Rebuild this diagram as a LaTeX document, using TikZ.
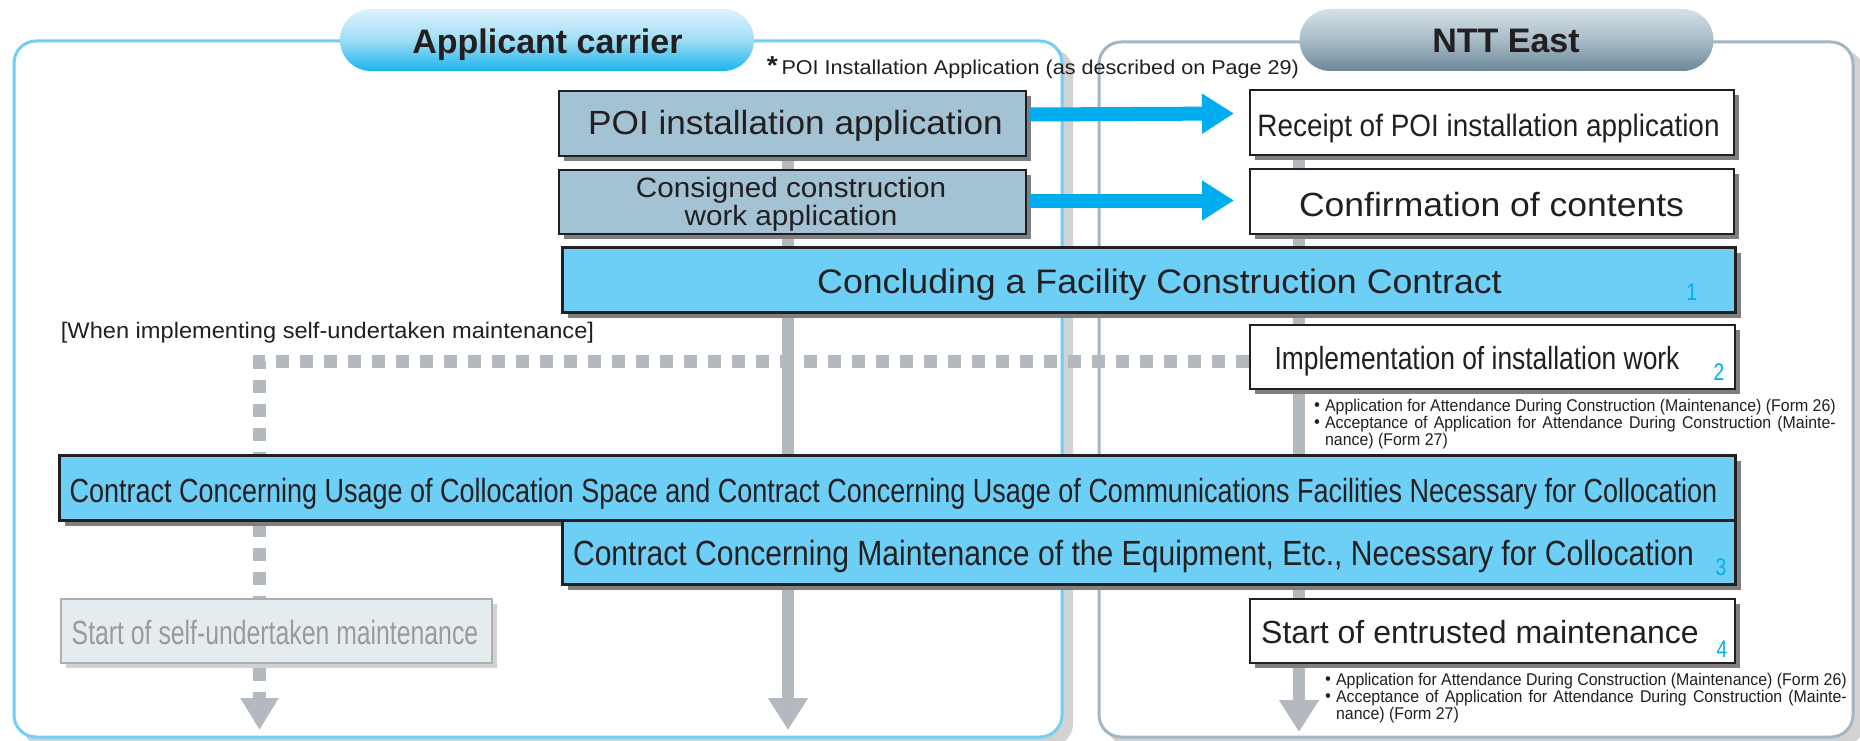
\documentclass[tikz,border=0pt]{standalone}
\usepackage{fontspec}
\setmainfont{Liberation Sans}
\newfontfamily\cjkfont{Noto Sans CJK JP}
\usepackage{graphicx}
\usetikzlibrary{arrows.meta,shadows}

\definecolor{panelL}{HTML}{6FCFF5}
\definecolor{panelR}{HTML}{A2B6C3}
\definecolor{poiFill}{HTML}{A3C2D3}
\definecolor{blueFill}{HTML}{6DCFF6}
\definecolor{arrowBlue}{HTML}{00AEEF}
\definecolor{greyLine}{HTML}{B4B9BF}
\definecolor{selfFill}{HTML}{E5ECEF}
\definecolor{selfText}{HTML}{9A9A9A}
\definecolor{darkLine}{HTML}{231F20}
\definecolor{shadowGrey}{HTML}{7F7F7F}
\definecolor{pillLtop}{HTML}{DDF3FC}
\definecolor{pillLmid}{HTML}{9FDDF5}
\definecolor{pillLbot}{HTML}{1AB4EB}
\definecolor{pillRtop}{HTML}{D6E0E6}
\definecolor{pillRmid}{HTML}{A8BCC8}
\definecolor{pillRbot}{HTML}{6C8799}

\newcommand\myfs[1]{\fontsize{#1}{#1}\selectfont}
\newcommand\hsc[2]{\scalebox{#1}[1]{#2}}
\newlength\bulw
\newcommand\bulletblock{%
  \fontsize{17}{16.5}\selectfont
  \settowidth\bulw{Application for Attendance During Construction (Maintenance) (Form 26)}%
  \begin{tabular}[t]{@{}l@{}l@{}}
  {\cjkfont\bfseries ・}&Application for Attendance During Construction (Maintenance) (Form 26)\\
  {\cjkfont\bfseries ・}&\makebox[\bulw][s]{Acceptance of Application for Attendance During Construction (Mainte-}\\
  &nance) (Form 27)
  \end{tabular}}

\pgfdeclarelayer{panel}
\pgfdeclarelayer{lines}
\pgfsetlayers{panel,lines,main}

\tikzset{
  box/.style={draw=darkLine, line width=2pt, inner sep=0pt, anchor=north west,
    drop shadow={shadow xshift=5pt, shadow yshift=-5pt, fill=shadowGrey, opacity=1}},
  poibox/.style={box, fill=poiFill},
  whitebox/.style={box, fill=white},
  contractbox/.style={box, fill=blueFill, line width=3pt},
  selfbox/.style={box, fill=selfFill, draw=selfText!80, line width=1.5pt,
    drop shadow={shadow xshift=5pt, shadow yshift=-5pt, fill=gray!35, opacity=1}},
  txt/.style={inner sep=0pt, anchor=base, text=darkLine},
  num/.style={inner sep=0pt, anchor=base, text=arrowBlue, font=\myfs{24}},
  pill/.style={minimum width=414pt, minimum height=62pt, rounded corners=31pt,
    inner sep=0pt, text=darkLine, font={\myfs{34}\bfseries}},
  flowline/.style={draw=greyLine, line width=12pt, -{Triangle[length=32pt,width=38pt]}},
  dashline/.style={draw=greyLine, line width=13pt, dash pattern=on 13pt off 11pt,
    -{Triangle[length=32pt,width=36pt]}},
  bluearrow/.style={draw=arrowBlue, line width=14pt, -{Triangle[length=32pt,width=38pt]}},
}

\begin{document}
\begin{tikzpicture}[x=1pt,y=-1pt]
\useasboundingbox (0,0) rectangle (1860,741);

% panels
\begin{pgfonlayer}{panel}
  \fill[gray!35, rounded corners=22pt] (22,49) rectangle (1073,746);
  \filldraw[fill=white, draw=panelL, line width=3pt, rounded corners=22pt] (14,41) rectangle (1062,737);
  \fill[gray!35, rounded corners=22pt] (1107,50) rectangle (1864,746);
  \filldraw[fill=white, draw=panelR, line width=3pt, rounded corners=22pt] (1099,42) rectangle (1853,737);
\end{pgfonlayer}

% headers
\node[pill, top color=pillLtop, bottom color=pillLbot, middle color=pillLmid] (hdrL) at (547,40) {};
\node[txt, font={\myfs{34}\bfseries}] (hdrLt) at (547.5,54) {Applicant carrier};
\node[pill, top color=pillRtop, bottom color=pillRbot, middle color=pillRmid] (hdrR) at (1506.5,40) {};
\node[txt, font={\myfs{34}\bfseries}] (hdrRt) at (1506,53) {NTT East};

% note
\node[txt, font=\myfs{20}] (note) at (1033,75) {\hsc{1.08}{{\fontsize{26}{26}\selectfont\textbf{*}}\,POI Installation Application (as described on Page 29)}};

% boxes
\node[poibox, minimum width=467pt, minimum height=65pt] (poi) at (558,90) {};
\node[txt, font=\myfs{33.5}] (poit) at (795.5,135) {\hsc{1.05}{POI installation application}};

\node[poibox, minimum width=467pt, minimum height=64pt] (cons) at (558,169) {};
\node[txt, font=\fontsize{28}{27}\selectfont] (const) at (791,197)
  {\hsc{1.06}{\begin{tabular}[t]{@{}c@{}}Consigned construction\\work application\end{tabular}}};

\node[whitebox, minimum width=484pt, minimum height=65pt] (receipt) at (1249,89) {};
\node[txt, font=\myfs{31}] (receiptt) at (1488.5,137) {\hsc{0.9}{Receipt of POI installation application}};

\node[whitebox, minimum width=484pt, minimum height=65pt] (confirm) at (1249,168) {};
\node[txt, font=\myfs{33.5}] (confirmt) at (1491.5,216) {\hsc{1.06}{Confirmation of contents}};

\node[contractbox, minimum width=1173pt, minimum height=65pt] (concl) at (561,246) {};
\node[txt, font=\myfs{34}] (conclt) at (1159.5,293) {\hsc{1.05}{Concluding a Facility Construction Contract}};
\node[num] (n1) at (1692,300) {\hsc{0.8}{1}};

\node[txt, font=\myfs{22.5}] (when) at (327.5,338) {\hsc{1.05}{[When implementing self-undertaken maintenance]}};

\node[whitebox, minimum width=485pt, minimum height=64pt] (impl) at (1249,324) {};
\node[txt, font=\myfs{32}] (implt) at (1477,369) {\hsc{0.825}{Implementation of installation work}};
\node[num] (n2) at (1719,380) {\hsc{0.8}{2}};
\node[inner sep=0pt, anchor=base west, text=darkLine] (bul1) at (1309,411) {\hsc{0.935}{\bulletblock}};

\node[contractbox, minimum width=1676pt, minimum height=65pt] (usage) at (58,454) {};
\node[txt, font=\myfs{33.5}] (usaget) at (893.5,502) {\hsc{0.806}{Contract Concerning Usage of Collocation Space and Contract Concerning Usage of Communications Facilities Necessary for Collocation}};

\node[contractbox, minimum width=1173pt, minimum height=64pt] (maint) at (561,519) {};
\node[txt, font=\myfs{35}] (maintt) at (1133.5,565) {\hsc{0.86}{Contract Concerning Maintenance of the Equipment, Etc., Necessary for Collocation}};
\node[num] (n3) at (1721,575) {\hsc{0.8}{3}};

\node[selfbox, minimum width=431pt, minimum height=64pt] (selfm) at (60,598) {};
\node[txt, font=\myfs{33.5}, text=selfText] (selfmt) at (275,644) {\hsc{0.74}{Start of self-undertaken maintenance}};

\node[whitebox, minimum width=485pt, minimum height=64pt] (entr) at (1249,598) {};
\node[txt, font=\myfs{32}] (entrt) at (1480,643) {Start of entrusted maintenance};
\node[num] (n4) at (1722,657) {\hsc{0.8}{4}};
\node[inner sep=0pt, anchor=base west, text=darkLine] (bul2) at (1320,685) {\hsc{0.935}{\bulletblock}};

% connectors
\coordinate (lend) at (788,730);
\coordinate (rend) at (1299,732);
\coordinate (dcorner) at (259.5,361);
\coordinate (dend) at (259.5,730);
\begin{pgfonlayer}{lines}
  \draw[flowline] (poi.south -| lend) -- (lend);
  \draw[flowline] (receipt.south -| rend) -- (rend);
  \draw[dashline] (impl.west |- dcorner) -- (dcorner) -- (dend);
\end{pgfonlayer}
\draw[bluearrow] ([xshift=3pt,yshift=9pt]poi.east) -- ([xshift=-15pt,yshift=9pt]receipt.west);
\draw[bluearrow] ([xshift=3pt,yshift=1.5pt]cons.east) -- ([xshift=-15pt,yshift=1pt]confirm.west);
\end{tikzpicture}
\end{document}
